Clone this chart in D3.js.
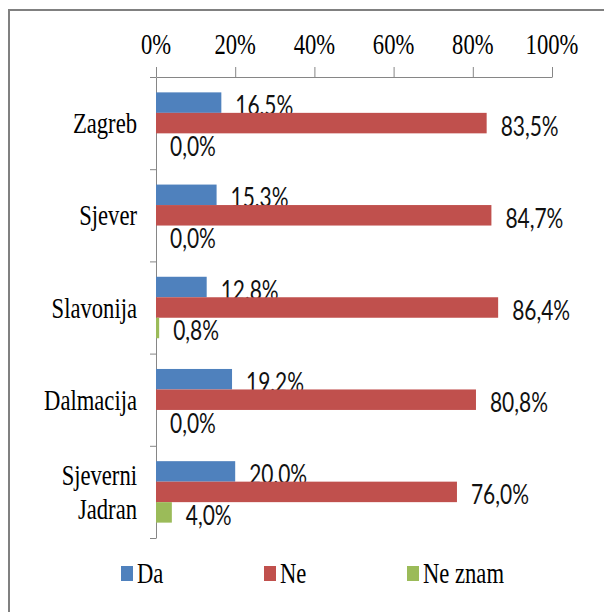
<!DOCTYPE html>
<html>
<head>
<meta charset="utf-8">
<script src="https://cdn.jsdelivr.net/npm/d3@7"></script>
<style>
  html, body { margin: 0; padding: 0; background: #fff; }
  svg { display: block; }
</style>
</head>
<body>
<svg id="chart" width="606" height="612"></svg>
<script>
// Survey answers by region (percent of respondents)
const categories = ["Zagreb", "Sjever", "Slavonija", "Dalmacija", "Sjeverni Jadran"];
const series = ["Da", "Ne", "Ne znam"];
const da = [16.5, 15.3, 12.8, 19.2, 20.0];
const ne = [83.5, 84.7, 86.4, 80.8, 76.0];
const neZnam = [0.0, 0.0, 0.8, 0.0, 4.0];
const tickValues = [0, 20, 40, 60, 80, 100];

const values = [da, ne, neZnam];
const colors = ["#4F81BD", "#C0504D", "#9BBB59"];

const svg = d3.select("#chart");

// Text is drawn narrow: each label is squeezed horizontally around its anchor
function narrowText(parent, x, y, str, o) {
  return parent.append("text")
    .attr("transform", `translate(${x},${y}) scale(${o.sx},1)`)
    .attr("text-anchor", o.anchor || "start")
    .style("font-family", o.family)
    .style("font-size", o.size + "px")
    .style("fill", o.fill || "#000")
    .text(str);
}
const serifOpt = { family: '"Liberation Serif", "Times New Roman", serif', size: 29, sx: 0.78 };
const sansOpt = { family: '"Lato", "Open Sans", sans-serif', size: 26.5, sx: 0.79, fill: "#111" };

// Frame
svg.append("path")
  .attr("d", "M9,612 L9,10 L604,10")
  .attr("fill", "none")
  .attr("stroke", "#808080")
  .attr("stroke-width", 2);

// Scales
const x = d3.scaleLinear().domain([0, 100]).range([156, 552]);
const y = d3.scaleBand().domain(categories).range([77, 538]).paddingInner(1 / 3).paddingOuter(1 / 6);
const yInner = d3.scaleBand().domain(series).range([0, y.bandwidth()]);
const yEdges = d3.scaleLinear().domain([0, categories.length]).range([77, 538]);

// Top percentage axis
const xAxis = svg.append("g")
  .attr("transform", `translate(0,${yEdges(0)})`)
  .call(d3.axisTop(x).tickValues(tickValues).tickSize(10).tickSizeOuter(0).tickFormat(""));
xAxis.selectAll("path, line").attr("stroke", "#868686");

tickValues.forEach(t => {
  narrowText(svg, x(t), 54, t + "%", Object.assign({ anchor: "middle" }, serifOpt));
});

// Left category axis, ticks on group boundaries
const yAxis = svg.append("g")
  .attr("transform", `translate(${x(0)},0)`)
  .call(d3.axisLeft(yEdges).ticks(categories.length).tickSize(6).tickSizeOuter(0).tickFormat(""));
yAxis.selectAll("path, line").attr("stroke", "#868686");

// Category labels
categories.forEach(c => {
  const lines = c.split(" ");
  const cy = y(c) + y.bandwidth() / 2;
  const lh = 34;
  lines.forEach((ln, i) => {
    const by = cy + 10 + (i - (lines.length - 1) / 2) * lh;
    narrowText(svg, 137, by, ln, Object.assign({ anchor: "end" }, serifOpt));
  });
});

// Bars and value labels
const fmt = v => d3.format(".1f")(v).replace(".", ",") + "%";
series.forEach((s, si) => {
  const g = svg.append("g");
  g.selectAll("rect")
    .data(values[si])
    .join("rect")
    .attr("x", x(0))
    .attr("y", (d, i) => y(categories[i]) + yInner(s))
    .attr("width", d => x(d) - x(0))
    .attr("height", yInner.bandwidth())
    .attr("fill", colors[si]);
  values[si].forEach((v, i) => {
    const cy = y(categories[i]) + yInner(s) + yInner.bandwidth() / 2;
    narrowText(svg, x(v) + 14, cy + 12.5, fmt(v), sansOpt);
  });
});

// Legend
const legendX = [121, 264, 407];
series.forEach((s, si) => {
  svg.append("rect")
    .attr("x", legendX[si])
    .attr("y", 566)
    .attr("width", 12)
    .attr("height", 15)
    .attr("fill", colors[si]);
  narrowText(svg, legendX[si] + 16, 583, s, serifOpt);
});
</script>
</body>
</html>
